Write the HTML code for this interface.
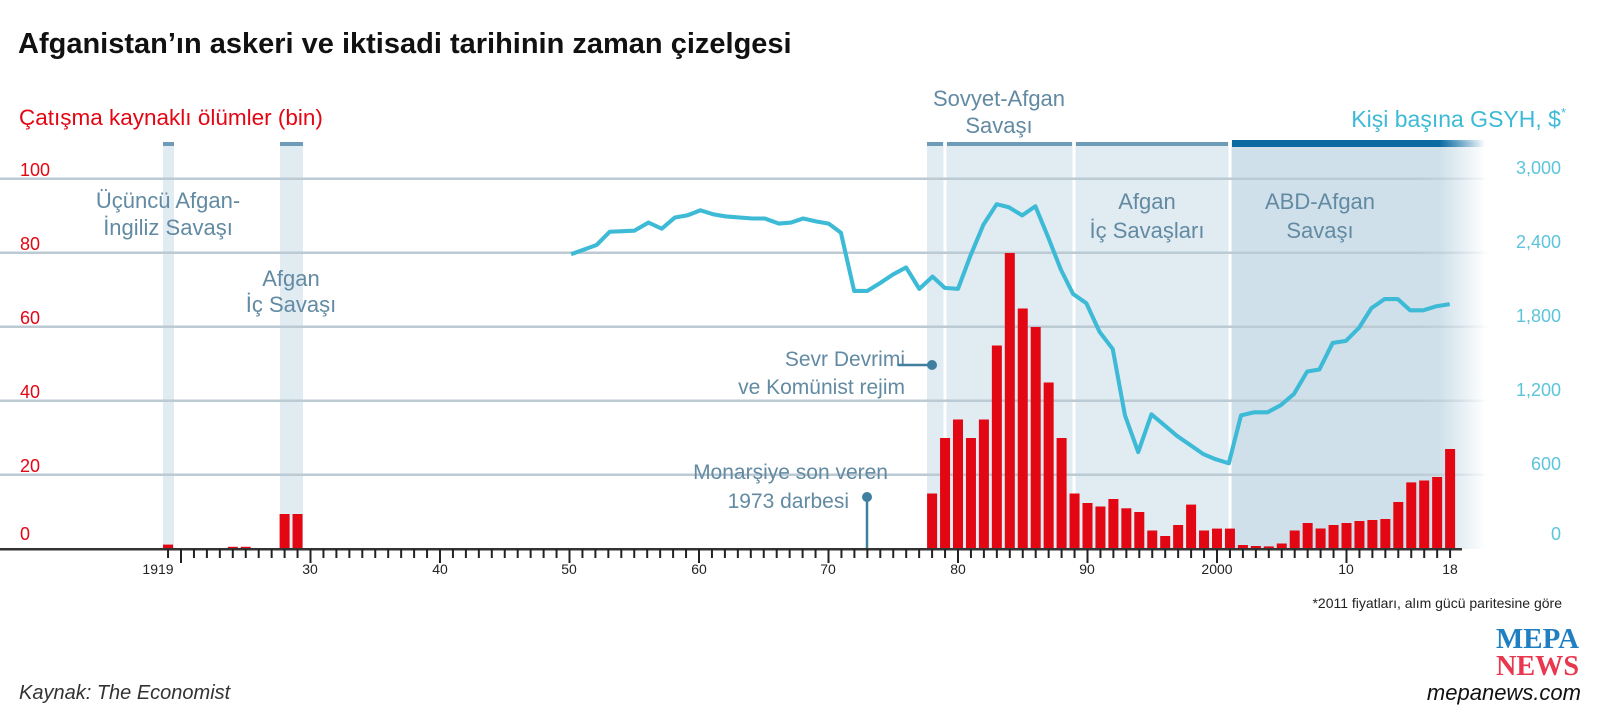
<!DOCTYPE html>
<html><head><meta charset="utf-8"><style>
html,body{margin:0;padding:0;background:#fff;}
svg{display:block;font-family:"Liberation Sans",sans-serif;}
</style></head><body>
<svg width="1600" height="725" viewBox="0 0 1600 725" xmlns="http://www.w3.org/2000/svg">
<defs>
<linearGradient id="fadeD" x1="0" x2="1"><stop offset="0" stop-color="#cfe0ea"/><stop offset="0.82" stop-color="#cfe0ea"/><stop offset="1" stop-color="#cfe0ea" stop-opacity="0"/></linearGradient>
<linearGradient id="fadeB" x1="0" x2="1"><stop offset="0" stop-color="#0a6ba3"/><stop offset="0.82" stop-color="#0a6ba3"/><stop offset="1" stop-color="#0a6ba3" stop-opacity="0"/></linearGradient>
<linearGradient id="fadeG" x1="0" x2="1"><stop offset="0" stop-color="#bccad3"/><stop offset="0.95" stop-color="#bccad3"/><stop offset="1" stop-color="#bccad3" stop-opacity="0"/></linearGradient>
</defs>

<text x="18" y="53" font-size="29" font-weight="bold" fill="#111">Afganistan’ın askeri ve iktisadi tarihinin zaman çizelgesi</text>
<text x="19" y="125" font-size="22.5" fill="#e30613">Çatışma kaynaklı ölümler (bin)</text>
<text x="1566" y="127" font-size="23" fill="#3dbad6" text-anchor="end">Kişi başına GSYH, $<tspan font-size="13" dy="-10">*</tspan></text>

<rect x="163" y="142" width="11" height="407" fill="#e1ebf2"/>
<rect x="280" y="142" width="23" height="407" fill="#e1ebf2"/>
<rect x="927" y="142" width="303" height="407" fill="#e1ebf2"/>
<rect x="1230" y="142" width="255" height="407" fill="url(#fadeD)"/>
<rect x="943.5" y="142" width="3" height="407" fill="#fff"/>
<rect x="1072.5" y="142" width="3" height="407" fill="#fff"/>
<rect x="1228.5" y="142" width="3" height="407" fill="#fff"/>
<rect x="163" y="142" width="11" height="4" fill="#6e9cb8"/>
<rect x="280" y="142" width="23" height="4" fill="#6e9cb8"/>
<rect x="927" y="142" width="16" height="4" fill="#6e9cb8"/>
<rect x="947" y="142" width="125" height="4" fill="#6e9cb8"/>
<rect x="1076" y="142" width="152" height="4" fill="#6e9cb8"/>
<rect x="1232" y="140" width="253" height="7" fill="url(#fadeB)"/>

<g fill="url(#fadeG)">
<rect x="0" y="177.5" width="1490" height="2.5"/>
<rect x="0" y="251.5" width="1490" height="2.5"/>
<rect x="0" y="325.5" width="1490" height="2.5"/>
<rect x="0" y="399.5" width="1490" height="2.5"/>
<rect x="0" y="473.5" width="1490" height="2.5"/>
</g>

<g font-size="18" fill="#e30613">
<text x="20" y="176">100</text><text x="20" y="250">80</text><text x="20" y="324">60</text>
<text x="20" y="398">40</text><text x="20" y="472">20</text><text x="20" y="540">0</text>
</g>
<g font-size="18" fill="#5bc4db" text-anchor="end">
<text x="1561" y="174">3,000</text><text x="1561" y="248">2,400</text><text x="1561" y="322">1,800</text>
<text x="1561" y="396">1,200</text><text x="1561" y="470">600</text><text x="1561" y="540">0</text>
</g>

<g font-size="22" fill="#628aa2" text-anchor="middle">
<text x="168" y="208">Üçüncü Afgan-</text><text x="168" y="235">İngiliz Savaşı</text>
<text x="291" y="286">Afgan</text><text x="291" y="312">İç Savaşı</text>
<text x="999" y="106">Sovyet-Afgan</text><text x="999" y="133">Savaşı</text>
<text x="1147" y="209">Afgan</text><text x="1147" y="238">İç Savaşları</text>
<text x="1320" y="209">ABD-Afgan</text><text x="1320" y="238">Savaşı</text>
</g>
<g font-size="21" fill="#628aa2" text-anchor="end">
<text x="905" y="366">Sevr Devrimi</text><text x="905" y="394">ve Komünist rejim</text>
<text x="888" y="479">Monarşiye son veren</text><text x="849" y="508">1973 darbesi</text>
</g>
<line x1="898" y1="365" x2="931" y2="365" stroke="#3f7f9f" stroke-width="2.5"/>
<circle cx="932" cy="365" r="5" fill="#3f7f9f"/>
<line x1="867" y1="497" x2="867" y2="549" stroke="#3f7f9f" stroke-width="2.5"/>
<circle cx="867" cy="497" r="5" fill="#3f7f9f"/>

<g fill="#e30613">
<rect x="163.05" y="544.6" width="10" height="4.4"/>
<rect x="227.8" y="546.8" width="10" height="2.2"/>
<rect x="240.75" y="546.8" width="10" height="2.2"/>
<rect x="279.6" y="514" width="10" height="35"/>
<rect x="292.55" y="514" width="10" height="35"/>
<rect x="927.1" y="493.5" width="10" height="55.5"/>
<rect x="940.05" y="438" width="10" height="111"/>
<rect x="953" y="419.5" width="10" height="129.5"/>
<rect x="965.95" y="438" width="10" height="111"/>
<rect x="978.9" y="419.5" width="10" height="129.5"/>
<rect x="991.85" y="345.5" width="10" height="203.5"/>
<rect x="1004.8" y="253" width="10" height="296"/>
<rect x="1017.75" y="308.5" width="10" height="240.5"/>
<rect x="1030.7" y="327" width="10" height="222"/>
<rect x="1043.65" y="382.5" width="10" height="166.5"/>
<rect x="1056.6" y="438" width="10" height="111"/>
<rect x="1069.55" y="493.5" width="10" height="55.5"/>
<rect x="1082.5" y="503" width="10" height="46"/>
<rect x="1095.45" y="506.5" width="10" height="42.5"/>
<rect x="1108.4" y="499" width="10" height="50"/>
<rect x="1121.35" y="508.3" width="10" height="40.7"/>
<rect x="1134.3" y="512" width="10" height="37"/>
<rect x="1147.25" y="530.5" width="10" height="18.5"/>
<rect x="1160.2" y="536" width="10" height="13"/>
<rect x="1173.15" y="525" width="10" height="24"/>
<rect x="1186.1" y="504.6" width="10" height="44.4"/>
<rect x="1199.05" y="530.5" width="10" height="18.5"/>
<rect x="1212" y="528.6" width="10" height="20.4"/>
<rect x="1224.95" y="528.6" width="10" height="20.4"/>
<rect x="1237.9" y="545" width="10" height="4"/>
<rect x="1250.85" y="546" width="10" height="3"/>
<rect x="1263.8" y="546.4" width="10" height="2.6"/>
<rect x="1276.75" y="543.5" width="10" height="5.5"/>
<rect x="1289.7" y="530.5" width="10" height="18.5"/>
<rect x="1302.65" y="523" width="10" height="26"/>
<rect x="1315.6" y="528.5" width="10" height="20.5"/>
<rect x="1328.55" y="525" width="10" height="24"/>
<rect x="1341.5" y="523" width="10" height="26"/>
<rect x="1354.45" y="521" width="10" height="28"/>
<rect x="1367.4" y="520" width="10" height="29"/>
<rect x="1380.35" y="519" width="10" height="30"/>
<rect x="1393.3" y="502" width="10" height="47"/>
<rect x="1406.25" y="482.4" width="10" height="66.6"/>
<rect x="1419.2" y="480.5" width="10" height="68.5"/>
<rect x="1432.15" y="477" width="10" height="72"/>
<rect x="1445.1" y="449" width="10" height="100"/>
</g>

<g transform="matrix(1.01808 0 0 1.0201 3.04 0.18)">
<polyline fill="none" stroke="#3dbad6" stroke-width="4" stroke-linejoin="round" points="558,249 583,240 596,227 620,226 634,218 647,224 660,213 672,211 685,206 698,210 710,212 736,214 748,214 762,219 774,218 786,214 799,217 811,219 823,228 836,285 849,285 862,277 874,269 887,262 900,283 913,271 925,282 938,283 950,251 963,220 976,200 988,203 1001,211 1014,202 1026,231 1039,264 1051,288 1064,297 1077,325 1090,342 1102,407 1115,443 1128,406 1140,416 1153,427 1166,436 1179,445 1191,450 1204,454 1216,407 1229,404 1242,404 1255,397 1268,386 1281,364 1293,362 1306,336 1319,334 1332,321 1344,302 1357,293 1370,293 1382,304 1395,304 1408,300 1421,298"/>
</g>

<rect x="0" y="548" width="1462" height="2.5" fill="#333"/>
<g stroke="#222" stroke-width="2">
<path d="M168.05 549v9M181 549v14M193.95 549v9M206.9 549v9M219.85 549v9M232.8 549v9M245.75 549v9M258.7 549v9M271.65 549v9M284.6 549v9M297.55 549v9M310.5 549v14M323.45 549v9M336.4 549v9M349.35 549v9M362.3 549v9M375.25 549v9M388.2 549v9M401.15 549v9M414.1 549v9M427.05 549v9M440 549v14M452.95 549v9M465.9 549v9M478.85 549v9M491.8 549v9M504.75 549v9M517.7 549v9M530.65 549v9M543.6 549v9M556.55 549v9M569.5 549v14M582.45 549v9M595.4 549v9M608.35 549v9M621.3 549v9M634.25 549v9M647.2 549v9M660.15 549v9M673.1 549v9M686.05 549v9M699 549v14M711.95 549v9M724.9 549v9M737.85 549v9M750.8 549v9M763.75 549v9M776.7 549v9M789.65 549v9M802.6 549v9M815.55 549v9M828.5 549v14M841.45 549v9M854.4 549v9M867.35 549v9M880.3 549v9M893.25 549v9M906.2 549v9M919.15 549v9M932.1 549v9M945.05 549v9M958 549v14M970.95 549v9M983.9 549v9M996.85 549v9M1009.8 549v9M1022.75 549v9M1035.7 549v9M1048.65 549v9M1061.6 549v9M1074.55 549v9M1087.5 549v14M1100.45 549v9M1113.4 549v9M1126.35 549v9M1139.3 549v9M1152.25 549v9M1165.2 549v9M1178.15 549v9M1191.1 549v9M1204.05 549v9M1217 549v14M1229.95 549v9M1242.9 549v9M1255.85 549v9M1268.8 549v9M1281.75 549v9M1294.7 549v9M1307.65 549v9M1320.6 549v9M1333.55 549v9M1346.5 549v14M1359.45 549v9M1372.4 549v9M1385.35 549v9M1398.3 549v9M1411.25 549v9M1424.2 549v9M1437.15 549v9M1450.1 549v9"/>
</g>
<g font-size="14" fill="#222" text-anchor="middle">
<text x="158" y="574">1919</text><text x="310" y="574">30</text><text x="440" y="574">40</text><text x="569" y="574">50</text>
<text x="699" y="574">60</text><text x="828" y="574">70</text><text x="958" y="574">80</text><text x="1087" y="574">90</text>
<text x="1217" y="574">2000</text><text x="1346" y="574">10</text><text x="1450" y="574">18</text>
</g>

<text x="1562" y="608" font-size="14" fill="#222" text-anchor="end">*2011 fiyatları, alım gücü paritesine göre</text>
<text x="19" y="699" font-size="20" font-style="italic" fill="#333">Kaynak: The Economist</text>
<text x="1579" y="648" font-family="Liberation Serif,serif" font-weight="bold" font-size="29" fill="#1f7fc0" text-anchor="end" textLength="83" lengthAdjust="spacingAndGlyphs">MEPA</text>
<text x="1579" y="675" font-family="Liberation Serif,serif" font-weight="bold" font-size="29" fill="#e8374f" text-anchor="end" textLength="83" lengthAdjust="spacingAndGlyphs">NEWS</text>
<text x="1581" y="700" font-size="22" font-style="italic" fill="#111" text-anchor="end">mepanews.com</text>
</svg>
</body></html>
